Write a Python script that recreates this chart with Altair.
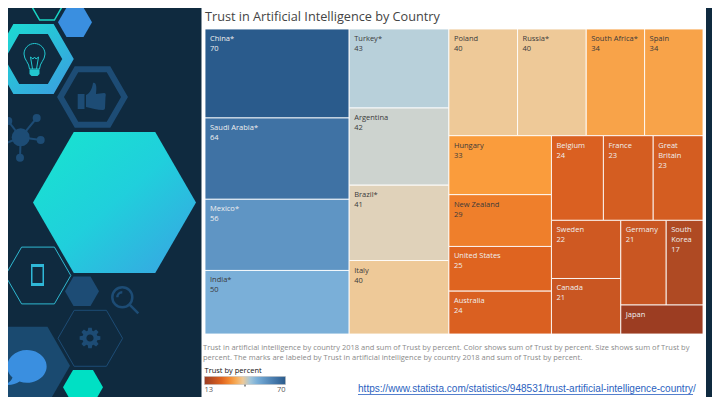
import math
import altair as alt
import pandas as pd

# ---------- data ----------
countries = ["China*", "Saudi Arabia*", "Mexico*", "India*", "Turkey*", "Argentina", "Brazil*", "Italy",
             "Poland", "Russia*", "South Africa*", "Spain", "Hungary", "New Zealand", "United States",
             "Australia", "Belgium", "France", "Great Britain", "Sweden", "Canada", "Germany",
             "South Korea", "Japan"]
trust = [70, 64, 56, 50, 43, 42, 41, 40, 40, 40, 34, 34, 33, 29, 25, 24, 24, 23, 23, 22, 21, 21, 17, 13]
dark_text = ["India*", "Turkey*", "Argentina", "Brazil*", "Italy", "Poland", "Russia*", "South Africa*",
             "Spain", "Hungary", "New Zealand"]
wrapped = {"Great Britain": ["Great", "Britain"], "South Korea": ["South", "Korea"]}
no_value_label = ["Japan"]

# nesting of the treemap: "h" splits left-right, "v" splits top-bottom
tree = ("h", [
    ("v", countries[0:4]),
    ("v", countries[4:8]),
    ("v", [
        ("h", countries[8:12]),
        ("h", [
            ("v", countries[12:16]),
            ("v", [
                ("h", countries[16:19]),
                ("h", [
                    ("v", countries[19:21]),
                    ("v", [("h", countries[21:23]), countries[23]]),
                ]),
            ]),
        ]),
    ]),
])

color_stops = [13, 17, 21, 25, 29, 33, 40, 41, 42, 43, 50, 56, 64, 70]
color_range = ["#9C3D22", "#AF4A23", "#C95622", "#DF6420", "#EF7F2B", "#FA9C3C", "#EEC998", "#E0D2BA",
               "#CDD3CF", "#B8D0DA", "#7AAFD8", "#5F95C4", "#3F72A4", "#2A5B8C"]

title_text = "Trust in Artificial Intelligence by Country"
caption = ["Trust in artificial intelligence by country 2018 and sum of Trust by percent.  Color shows sum of Trust by percent.  Size shows sum of Trust by",
           "percent.  The marks are labeled by Trust in artificial intelligence by country 2018 and sum of Trust by percent."]
link = "https://www.statista.com/statistics/948531/trust-artificial-intelligence-country/"

# ---------- frame: the drawing area is the window less the page margin ----------
PAGE = 8
W, H = 704, 389
SX = alt.Scale(domain=[PAGE, PAGE + W], range=[0, W])
SY = alt.Scale(domain=[PAGE, PAGE + H], range=[0, H])
DARK = "#0F2A3F"
NAVY = "#1D4C75"
FONT = "Open Sans"
BOX = (205, 29, 703, 334)

value_of = dict(zip(countries, trust))


def total(node):
    if isinstance(node, str):
        return value_of[node]
    return sum(total(c) for c in node[1])


def layout(node, x0, y0, x1, y1, out):
    if isinstance(node, str):
        out.append(dict(name=node, value=value_of[node], x=x0, x2=x1, y=y0, y2=y1))
        return
    kind, children = node
    whole, done = total(node), 0
    for c in children:
        a, b = done / whole, (done + total(c)) / whole
        if kind == "h":
            layout(c, x0 + (x1 - x0) * a, y0, x0 + (x1 - x0) * b, y1, out)
        else:
            layout(c, x0, y0 + (y1 - y0) * a, x1, y0 + (y1 - y0) * b, out)
        done += total(c)


cells = []
layout(tree, *BOX, cells)

label_rows = []
for c in cells:
    lines = wrapped.get(c["name"], [c["name"]])
    if c["name"] not in no_value_label:
        lines = lines + [str(c["value"])]
    for i, t in enumerate(lines):
        label_rows.append(dict(t=t, x=c["x"] + 5, y=c["y"] + 10 + 10 * i,
                               col="#3A3A3A" if c["name"] in dark_text else "#EFEFEF"))

X, Y = alt.X("x:Q", scale=SX, axis=None), alt.Y("y:Q", scale=SY, axis=None)
X2, Y2 = alt.X2("x2:Q"), alt.Y2("y2:Q")

# ---------- left panel decoration ----------
HEX = "M-1,0 L-0.5,-0.866 L0.5,-0.866 L1,0 L0.5,0.866 L-0.5,0.866 Z"
gear_pts = []
for k in range(8):
    base = k * math.pi / 4
    for off, r in ((-0.30, 7.6), (-0.17, 10.5), (0.17, 10.5), (0.30, 7.6)):
        gear_pts.append(f"{r * math.cos(base + off):.2f},{r * math.sin(base + off):.2f}")
GEAR = "M" + " L".join(gear_pts) + " Z M3.6,0 A3.6,3.6 0 1 0 -3.6,0 A3.6,3.6 0 1 0 3.6,0 Z"
BULB = ("M-5,9 C-5,3 -10.5,0 -10.5,-6 A10.5,10.5 0 0 1 10.5,-6 C10.5,0 5,3 5,9 Z "
        "M-4,-3 L-2,9 M4,-3 L2,9 M-4,-3 L-1.5,-1 L0,-3 L1.5,-1 L4,-3")
BULB_BASE = "M-5,9.5 L5,9.5 L5,14 L3,16 L-3,16 L-5,14 Z"
THUMB = ("M-14.3,-3 L-7.5,-3 L-7.5,12 L-14.3,12 Z "
         "M-6,-2 C-2,-4 0,-8 1,-14 C4,-15 5,-11 4,-3 L12,-4 C14,-4 14,-2 13.5,0 L13,11 "
         "C13,12 12,13 11,13 C5,13 0,11 -6,10 Z")
PHONE = "M-6.5,-11 L6.5,-11 L6.5,11 L-6.5,11 Z M-5,-8 L-5,8 L5,8 L5,-8 Z"
LENS = "M-10,0 A10,10 0 1 1 10,0 A10,10 0 1 1 -10,0 Z M-5,0 A5,5 0 0 1 0,-5 M7.5,7.5 L16,16"
BUBBLE = "M-11,12 A19.7,16.3 0 1 1 -4,16 C-8,19 -14,20 -19.5,19.5 C-15,18 -12,15 -11,12 Z"

deco_x = [47, 75, 92.5, 38, 82, 90.3, 25, 83, 34.5, 34.5, 92, 37.5, 90, 122.3, 23.5, 20.7, 8.3, 36.7, 40.7, 20, 0]
deco_y = [7.2, 22.3, 97, 275.5, 291.3, 338.3, 365.7, 387.3, 60, 60, 97, 275, 338, 297.3, 365.5, 137.3, 121, 118, 140, 157.7, 145.7]
deco_shape = [HEX, HEX, HEX, HEX, HEX, HEX, HEX, HEX, BULB, BULB_BASE, THUMB, PHONE, GEAR, LENS, BUBBLE,
              "circle", "circle", "circle", "circle", "circle", "circle"]
deco_radius = [14.8, 17, 32, 32.8, 17, 32.3, 45, 20, 1, 1, 1, 1, 1, 1, 1, 9, 4, 4, 4, 4, 4]
deco_fill = ["transparent", "#3A8FE0", "transparent", "transparent", NAVY, "transparent", "#1A4A70", "#00E0C4",
             "transparent", "#22C8D0", NAVY, "#2FB8D8", NAVY, "transparent", "#3A8FE0",
             NAVY, NAVY, NAVY, NAVY, NAVY, NAVY]
deco_stroke = ["#19D6C4", "transparent", NAVY, "#2FB8D0", "transparent", NAVY, "transparent", "transparent",
               "#22C8D0", "transparent", "transparent", "transparent", "transparent", NAVY, "transparent",
               "transparent", "transparent", "transparent", "transparent", "transparent", "transparent"]
deco_width = [1.5, 0, 6, 1, 0, 1, 0, 0, 1, 0, 0, 0, 0, 2.5, 0, 0, 0, 0, 0, 0, 0]
decor = pd.DataFrame(dict(x=deco_x, y=deco_y, shape=deco_shape, fill=deco_fill, stroke=deco_stroke,
                          sw=deco_width, size=[4 * r * r for r in deco_radius]))

spokes = pd.DataFrame(dict(x=[20.7] * 5, y=[137.3] * 5, x2=[8.3, 36.7, 40.7, 20, 0], y2=[121, 118, 140, 157.7, 145.7]))

big_fill = alt.LinearGradient(gradient="linear", x1=0, y1=0, x2=1, y2=1,
                              stops=[alt.GradientStop(offset=0.05, color="#18E3D0"),
                                     alt.GradientStop(offset=0.5, color="#20CFDC"),
                                     alt.GradientStop(offset=0.95, color="#38A6E2")])
ring_stroke = alt.LinearGradient(gradient="linear", x1=0, y1=0, x2=1, y2=1,
                                 stops=[alt.GradientStop(offset=0, color="#1BDCD2"),
                                        alt.GradientStop(offset=1, color="#3A9FE0")])

big_hex = alt.Chart(pd.DataFrame(dict(x=[114.5], y=[202.5], size=[4 * 81.5 ** 2]))).mark_point(
    shape=HEX, filled=True, fill=big_fill, opacity=1, strokeWidth=0
).encode(x=X, y=Y, size=alt.Size("size:Q", scale=None))
ring_hex = alt.Chart(pd.DataFrame(dict(x=[33.5], y=[59], size=[4 * 34.5 ** 2]))).mark_point(
    shape=HEX, filled=False, stroke=ring_stroke, opacity=1, strokeWidth=10
).encode(x=X, y=Y, size=alt.Size("size:Q", scale=None))

decor_layer = alt.Chart(decor).mark_point(filled=True, opacity=1).encode(
    x=X, y=Y,
    shape=alt.Shape("shape:N", scale=None),
    size=alt.Size("size:Q", scale=None),
    fill=alt.Fill("fill:N", scale=None),
    stroke=alt.Stroke("stroke:N", scale=None),
    strokeWidth=alt.StrokeWidth("sw:Q", scale=None),
)
spoke_layer = alt.Chart(spokes).mark_rule(color=NAVY, strokeWidth=2).encode(x=X, y=Y, x2=X2, y2=Y2)

# ---------- white sheet ----------
sheet = alt.Chart(pd.DataFrame(dict(x=[201.5], x2=[706], y=[0], y2=[405]))).mark_rect(color="white").encode(
    x=X, x2=X2, y=Y, y2=Y2)

# ---------- treemap ----------
legend = alt.Legend(orient="none", legendX=196.5, legendY=359, direction="horizontal",
                    title="Trust by percent", titleFont=FONT, titleFontSize=7.5, titleFontWeight="normal",
                    titleColor="#111111", titlePadding=2,
                    gradientLength=81, gradientThickness=8, gradientStrokeColor="#BBBBBB", gradientStrokeWidth=0.5,
                    values=[13, 70], labelFont=FONT, labelFontSize=7.5, labelColor="#555555", labelOffset=1)
rects = alt.Chart(pd.DataFrame(cells)).mark_rect(stroke="white", strokeWidth=1, strokeOpacity=0.85).encode(
    x=X, x2=X2, y=Y, y2=Y2,
    color=alt.Color("value:Q", scale=alt.Scale(domain=color_stops, range=color_range), legend=legend),
)
labels = alt.Chart(pd.DataFrame(label_rows)).mark_text(
    align="left", baseline="middle", font=FONT, fontSize=7.5
).encode(x=X, y=Y, text="t:N", color=alt.Color("col:N", scale=None))


def text_layer(rows, **kw):
    return alt.Chart(pd.DataFrame(rows)).mark_text(align="left", baseline="middle", **kw).encode(x=X, y=Y, text="t:N")


title = text_layer([dict(t=title_text, x=205, y=17)], font=FONT, fontSize=12.7, color="#444444")
cap = text_layer([dict(t=caption[0], x=203, y=348), dict(t=caption[1], x=203, y=358)],
                 font=FONT, fontSize=7.5, color="#8A8A8A")
url = text_layer([dict(t=link, x=358, y=389)], font="Liberation Sans", fontSize=10.05, color="#2A5FC0")
underline = alt.Chart(pd.DataFrame(dict(x=[358], x2=[693], y=[394.5]))).mark_rule(
    color="#2A5FC0", strokeWidth=0.8).encode(x=X, x2=X2, y=Y)
legend_tick = alt.Chart(pd.DataFrame(dict(x=[245], y=[384], y2=[386.5]))).mark_rule(
    color="#222222", strokeWidth=1).encode(x=X, y=Y, y2=Y2)

chart = alt.layer(
    sheet, big_hex, ring_hex, spoke_layer, decor_layer, rects, labels, title, cap, url, underline, legend_tick
).properties(
    width=W, height=H, background=DARK, padding=0, autosize=alt.AutoSizeParams(type="none")
).configure_view(stroke=None)

chart.save("out.html", embed_options={"renderer": "svg", "actions": False})
